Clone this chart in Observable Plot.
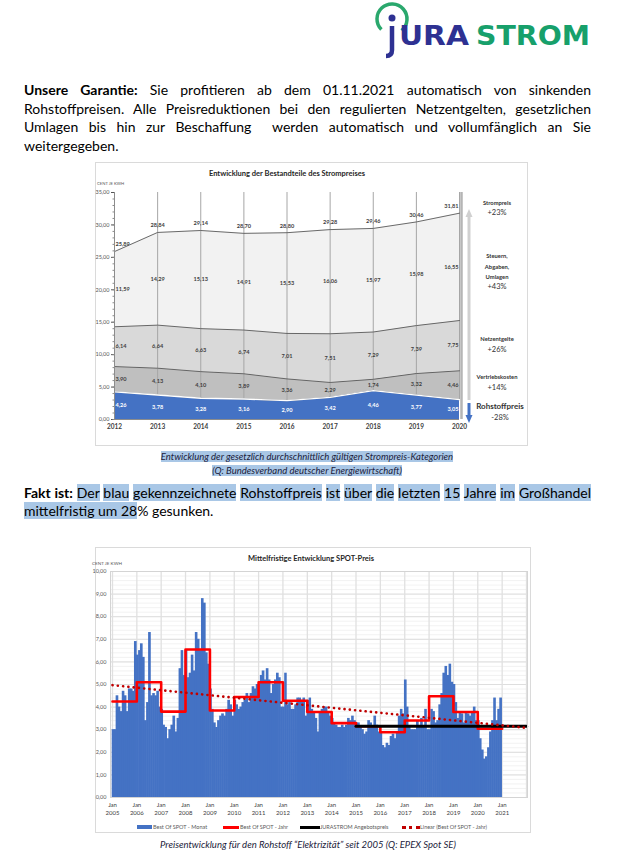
<!DOCTYPE html>
<html><head><meta charset="utf-8">
<script src="https://cdn.jsdelivr.net/npm/d3@7"></script>
<script src="https://cdn.jsdelivr.net/npm/@observablehq/plot@0.6"></script>
<style>
html,body{margin:0;padding:0;background:#fff;}
#page{position:relative;width:624px;height:864px;overflow:hidden;font-family:Lato,"Open Sans",sans-serif;color:#000;}
.abs{position:absolute;}
.para{font-size:14px;line-height:18.5px;}
.jl{text-align:justify;text-align-last:justify;}
.hl{background:#a9c7e6;}
.cap{font-size:9.5px;font-style:italic;line-height:14px;text-align:center;color:#1b1b3a;}
.box{border:1px solid #dadada;box-sizing:border-box;}
.ctitle{font-size:7.5px;font-weight:bold;color:#262626;text-align:center;white-space:nowrap;}
.unit{font-size:4.2px;color:#595959;white-space:nowrap;}
.ann{font-size:5.8px;font-weight:bold;color:#333;text-align:center;line-height:10.5px;width:80px;}
.pct{font-size:7.5px;color:#333;text-align:center;width:80px;}
.leg{font-size:5.5px;color:#595959;white-space:nowrap;line-height:6px;}
</style></head>
<body><div id="page">

<!-- logo -->
<svg class="abs" style="left:370px;top:0px" width="240" height="62" viewBox="370 0 240 62">
  <path d="M 381.4 29.6 A 15 15 0 1 1 401.6 30.5" fill="none" stroke="#2aa86d" stroke-width="3.5"/>
  <circle cx="392" cy="18" r="3.5" fill="#2e3192"/>
  <path d="M392 26 V50 Q392 56 386 56" fill="none" stroke="#2e3192" stroke-width="4.5"/>
  <text x="399" y="45" font-family="DejaVu Sans" font-weight="bold" font-size="27" fill="#2e3192" textLength="70" lengthAdjust="spacingAndGlyphs">URA</text>
  <text x="476" y="45" font-family="DejaVu Sans" font-weight="bold" font-size="27" fill="#17a06b" textLength="114" lengthAdjust="spacingAndGlyphs">STROM</text>
</svg>

<div class="abs para" style="left:24px;top:81px;width:567px;">
  <div class="jl"><b>Unsere Garantie:</b> Sie profitieren ab dem 01.11.2021 automatisch von sinkenden</div>
  <div class="jl">Rohstoffpreisen. Alle Preisreduktionen bei den regulierten Netzentgelten, gesetzlichen</div>
  <div class="jl">Umlagen bis hin zur Beschaffung&nbsp; werden automatisch und vollumfänglich an Sie</div>
  <div>weitergegeben.</div>
</div>

<!-- chart 1 frame -->
<div class="abs box" style="left:95px;top:162px;width:433px;height:284px;"></div>
<div class="abs ctitle" style="left:187px;top:169px;width:200px;">Entwicklung der Bestandteile des Strompreises</div>
<div class="abs unit" style="left:97px;top:181px;">CENT JE KWH</div>
<div id="c1" class="abs" style="left:90px;top:162px;"></div>

<svg class="abs" style="left:460px;top:200px" width="20" height="235">
  <line x1="9" y1="16" x2="9" y2="200" stroke="#d0d0d0" stroke-width="3"/>
  <polygon points="9,9 5.5,17 12.5,17" fill="#d0d0d0"/>
  <line x1="9" y1="203" x2="9" y2="216" stroke="#4472c4" stroke-width="3"/>
  <polygon points="9,223 5.5,215 12.5,215" fill="#4472c4"/>
</svg>
<div class="abs ann" style="left:457px;top:198px;">Strompreis</div>
<div class="abs pct" style="left:457px;top:208px;">+23%</div>
<div class="abs ann" style="left:457px;top:251px;">Steuern,<br>Abgaben,<br>Umlagen</div>
<div class="abs pct" style="left:457px;top:282px;">+43%</div>
<div class="abs ann" style="left:457px;top:334px;">Netzentgelte</div>
<div class="abs pct" style="left:457px;top:345px;">+26%</div>
<div class="abs ann" style="left:457px;top:372px;">Vertriebskosten</div>
<div class="abs pct" style="left:457px;top:383px;">+14%</div>
<div class="abs" style="left:460px;top:401px;width:80px;text-align:center;font-size:8px;font-weight:bold;color:#333;">Rohstoffpreis</div>
<div class="abs pct" style="left:460px;top:413px;">-28%</div>

<div class="abs cap" style="left:100px;top:450px;width:414px;">
  <span class="hl">Entwicklung der gesetzlich durchschnittlich gültigen Strompreis-Kategorien</span><br>
  <span class="hl">(Q: Bundesverband deutscher Energiewirtschaft)</span>
</div>

<div class="abs para" style="left:24px;top:484px;width:567px;line-height:18px;">
  <div class="jl"><b>Fakt ist:</b> <span class="hl">Der</span> <span class="hl">blau</span> <span class="hl">gekennzeichnete</span> <span class="hl">Rohstoffpreis</span> <span class="hl">ist</span> <span class="hl">über</span> <span class="hl">die</span> <span class="hl">letzten</span> <span class="hl">15</span> <span class="hl">Jahre</span> <span class="hl">im</span> <span class="hl">Großhandel</span></div>
  <div><span class="hl">mittelfristig um 28</span>% gesunken.</div>
</div>

<!-- chart 2 frame -->
<div class="abs box" style="left:95px;top:547px;width:436px;height:286px;"></div>
<div class="abs ctitle" style="left:211px;top:554px;width:200px;">Mittelfristige Entwicklung SPOT-Preis</div>
<div class="abs unit" style="left:92px;top:560px;font-size:4.6px;">CENT JE KWH</div>
<div id="c2" class="abs" style="left:90px;top:547px;"></div>

<div class="abs" style="left:137px;top:825px;width:15px;height:4px;background:#4472c4;"></div>
<div class="abs leg" style="left:153px;top:824px;">Best Of SPOT - Monat</div>
<div class="abs" style="left:223px;top:826px;width:16px;height:2.5px;background:#ff0000;"></div>
<div class="abs leg" style="left:240px;top:824px;">Best Of SPOT - Jahr</div>
<div class="abs" style="left:300px;top:825.5px;width:20px;height:3px;background:#000;"></div>
<div class="abs leg" style="left:320px;top:824px;">JURASTROM Angebotspreis</div>
<div class="abs" style="left:402px;top:825.5px;width:18px;height:0;border-top:3px dotted #c00000;"></div>
<div class="abs leg" style="left:420px;top:824px;">Linear (Best Of SPOT - Jahr)</div>

<div class="abs cap" style="left:100px;top:838px;width:416px;">Preisentwicklung für den Rohstoff “Elektrizität” seit 2005 (Q: EPEX Spot SE)</div>

</div>
<script>
// ---------- Chart 1 data ----------
const years1 = [2012, 2013, 2014, 2015, 2016, 2017, 2018, 2019, 2020];
const cats1 = ["Rohstoffpreis", "Vertriebskosten", "Netzentgelte", "Steuern, Abgaben, Umlagen"];
const rohstoff = [4.26, 3.78, 3.28, 3.16, 2.90, 3.42, 4.46, 3.77, 3.05];
const vertrieb = [3.90, 4.13, 4.10, 3.89, 3.36, 2.29, 1.74, 3.32, 4.46];
const netz = [6.14, 6.64, 6.63, 6.74, 7.01, 7.51, 7.29, 7.39, 7.75];
const steuern = [11.59, 14.29, 15.13, 14.91, 15.53, 16.06, 15.97, 15.98, 16.55];
const strompreis = [25.89, 28.84, 29.14, 28.70, 28.80, 29.28, 29.46, 30.46, 31.81];
const yTicks1 = [0, 5, 10, 15, 20, 25, 30, 35];
const colors1 = ["#4472c4", "#bfbfbf", "#d9d9d9", "#f2f2f2"];

// ---------- Chart 2 data ----------
const spotMonthly = [
  3.0, 3.0, 4.5, 4.0, 3.8, 4.7, 4.5, 3.8, 4.8, 4.8, 4.7, 6.9,   // 2005
  6.3, 6.5, 6.8, 6.2, 3.4, 4.2, 7.3, 4.5, 4.6, 4.5, 4.7, 4.0,   // 2006
  3.9, 3.2, 3.1, 2.6, 3.0, 3.2, 3.6, 2.9, 3.5, 5.7, 6.5, 5.4,   // 2007
  6.5, 5.3, 5.5, 6.3, 5.6, 7.3, 7.0, 6.5, 8.8, 8.6, 6.4, 5.9,   // 2008
  4.8, 3.9, 3.3, 3.1, 3.4, 3.6, 3.7, 3.6, 3.9, 4.3, 4.1, 3.6,   // 2009
  4.3, 4.1, 3.9, 4.0, 4.2, 4.3, 4.6, 4.2, 4.6, 4.9, 4.8, 5.0,   // 2010
  5.0, 5.4, 5.6, 5.2, 5.7, 5.2, 4.6, 5.0, 5.2, 5.5, 5.3, 4.0,   // 2011
  4.0, 5.5, 4.1, 4.2, 3.9, 3.9, 4.1, 4.4, 4.4, 4.3, 4.4, 3.6,   // 2012
  4.3, 4.4, 3.9, 3.8, 3.5, 2.9, 3.8, 3.9, 4.0, 4.0, 3.8, 3.6,   // 2013
  3.5, 3.3, 3.2, 3.1, 3.1, 3.2, 3.1, 3.2, 3.5, 3.4, 3.6, 3.4,   // 2014
  3.3, 3.3, 3.1, 3.0, 2.8, 2.9, 3.4, 3.3, 3.1, 3.6, 3.2, 2.9,   // 2015
  2.9, 2.3, 2.2, 2.4, 2.3, 2.7, 2.8, 2.6, 2.9, 3.6, 3.9, 3.7,   // 2016
  5.2, 4.0, 3.1, 3.0, 3.0, 3.0, 3.4, 3.1, 3.5, 3.1, 3.9, 3.0,   // 2017
  3.0, 3.9, 3.8, 3.3, 3.4, 4.1, 4.6, 5.5, 5.8, 5.4, 5.9, 5.1,   // 2018
  5.0, 4.2, 3.5, 3.8, 3.7, 3.3, 3.8, 3.7, 3.6, 3.8, 4.0, 3.4,   // 2019
  3.4, 2.6, 2.1, 1.7, 1.8, 2.2, 2.9, 3.4, 4.4, 3.4, 3.9, 4.4    // 2020
];
const spotYears = [2005, 2006, 2007, 2008, 2009, 2010, 2011, 2012, 2013, 2014, 2015, 2016, 2017, 2018, 2019, 2020];
const spotYearly = [4.25, 5.1, 3.8, 6.55, 3.85, 4.45, 5.1, 4.28, 3.78, 3.29, 3.15, 2.89, 3.41, 4.48, 3.78, 3.04];
const angebotStart = 2015, angebotEnd = 2022, angebotspreis = 3.15;
const trendYears = [2005, 2022];
const trendValues = [4.97, 3.08];
const yTicks2 = [0, 1, 2, 3, 4, 5, 6, 7, 8, 9, 10];
const xTickYears2 = [2005, 2006, 2007, 2008, 2009, 2010, 2011, 2012, 2013, 2014, 2015, 2016, 2017, 2018, 2019, 2020, 2021];

const fmt = v => v.toFixed(2).replace(".", ",");

// ---------- Chart 1 ----------
const series1 = [rohstoff, vertrieb, netz, steuern];
const rows1 = [];
years1.forEach((y, i) => {
  let base = 0;
  cats1.forEach((c, ci) => {
    const v = series1[ci][i];
    rows1.push({year: y, cat: c, value: v, mid: base + v / 2, label: fmt(v)});
    base += v;
  });
});
const totals = years1.map((y, i) => ({year: y, value: strompreis[i], label: fmt(strompreis[i])}));
const blueRows = rows1.filter(d => d.cat === cats1[0]);
const grayRows = rows1.filter(d => d.cat !== cats1[0]);

function labels(data, y, fill, extra = {}) {
  const base = {x: "year", y, text: "label", fill, fontSize: 5.6, fontWeight: "bold", ...extra};
  return [
    Plot.text(data.filter(d => d.year === years1[0]), {...base, textAnchor: "start", dx: 1}),
    Plot.text(data.filter(d => d.year === years1[years1.length - 1]), {...base, textAnchor: "end", dx: -1}),
    Plot.text(data.filter(d => d.year > years1[0] && d.year < years1[years1.length - 1]), {...base})
  ];
}

const c1 = Plot.plot({
  width: 438, height: 284,
  marginLeft: 24, marginRight: 69, marginTop: 30, marginBottom: 27,
  style: {fontFamily: "Lato, sans-serif", background: "transparent", overflow: "visible"},
  x: {domain: [years1[0], years1[years1.length - 1]], axis: null, label: null},
  y: {domain: [0, 35], axis: null, label: null},
  color: {domain: cats1, range: colors1},
  marks: [
    Plot.areaY(rows1, {x: "year", y: "value", z: "cat", fill: "cat"}),
    Plot.ruleX(blueRows, {x: "year", y1: "value", y2: 35, stroke: "#a6a6a6", strokeWidth: 1}),
    Plot.lineY(rows1, Plot.stackY2({x: "year", y: "value", z: "cat", stroke: "#5a5a5a", strokeWidth: 0.9})),
    Plot.lineY(blueRows, {x: "year", y: "value", stroke: "#ffffff", strokeWidth: 1.3}),
    Plot.ruleY([0], {stroke: "#8c8c8c"}),
    Plot.ruleX([years1[years1.length - 1]], {stroke: "#b5b5b5", strokeWidth: 2.5, dx: 2}),
    Plot.axisX({ticks: years1, tickFormat: d => String(d), tickSize: 0, tickPadding: 5, fontSize: 6.5, fontWeight: "bold", color: "#404040", label: null}),
    Plot.axisY({ticks: yTicks1, tickFormat: fmt, tickSize: 3, tickPadding: 2, fontSize: 5.5, color: "#555", label: null}),
    Plot.axisY({ticks: d3.range(0, 35, 1), tickFormat: () => "", tickSize: 1.5, color: "#8c8c8c", label: null}),
    Plot.ruleX([years1[0]], {stroke: "#8c8c8c"}),
    ...labels(blueRows, "mid", "#ffffff"),
    ...labels(grayRows, "mid", "#404040"),
    ...labels(totals, "value", "#404040", {dy: -7})
  ]
});
document.getElementById("c1").appendChild(c1);

// ---------- Chart 2 ----------
const bars = spotMonthly.map((v, i) => ({start: new Date(2005, i, 1), end: new Date(2005, i + 1, 1), v}));
const steps = spotYears.map((y, i) => ({date: new Date(y, 0, 1), v: spotYearly[i]}));
steps.push({date: new Date(spotYears[spotYears.length - 1] + 1, 0, 1), v: spotYearly[spotYearly.length - 1]});
const angebot = [{date: new Date(angebotStart, 0, 1), v: angebotspreis}, {date: new Date(angebotEnd, 0, 1), v: angebotspreis}];
const trend = trendYears.map((y, i) => ({date: new Date(y, 0, 1), v: trendValues[i]}));
const gridYears = d3.range(2005, 2023).map(y => new Date(y, 0, 1));

const c2 = Plot.plot({
  width: 440, height: 280,
  marginLeft: 20, marginRight: 3, marginTop: 24, marginBottom: 30,
  style: {fontFamily: "Lato, sans-serif", background: "transparent", overflow: "visible"},
  x: {type: "time", domain: [new Date(2004, 11, 2), new Date(2022, 0, 16)], axis: null, label: null},
  y: {domain: [0, 10], axis: null, label: null},
  marks: [
    Plot.ruleY(d3.range(0, 10.01, 0.2), {stroke: "#efefef", strokeWidth: 0.8}),
    Plot.ruleY(yTicks2, {stroke: "#dedede", strokeWidth: 1}),
    Plot.ruleX(gridYears, {stroke: "#e0e0e0", strokeWidth: 1.3}),
    Plot.rectY(bars, {x1: "start", x2: "end", y: "v", fill: "#4472c4", insetLeft: -0.3, insetRight: -0.3}),
    Plot.line(steps, {x: "date", y: "v", curve: "step-after", stroke: "#ff0000", strokeWidth: 2.6}),
    Plot.line(angebot, {x: "date", y: "v", stroke: "#000", strokeWidth: 3}),
    Plot.line(trend, {x: "date", y: "v", stroke: "#c00000", strokeWidth: 2.6, strokeDasharray: "0.1,5.2", strokeLinecap: "round"}),
    Plot.frame({stroke: "#d4d4d4"}),
    Plot.axisX({ticks: xTickYears2.map(y => new Date(y, 0, 1)), tickFormat: d => `Jan\n${d.getFullYear()}`, tickSize: 0, tickPadding: 4, fontSize: 6, lineHeight: 1.3, color: "#404040", label: null}),
    Plot.axisY({ticks: yTicks2, tickFormat: fmt, tickSize: 0, tickPadding: 4, fontSize: 5.5, color: "#595959", label: null})
  ]
});
document.getElementById("c2").appendChild(c2);
</script>
</body></html>
